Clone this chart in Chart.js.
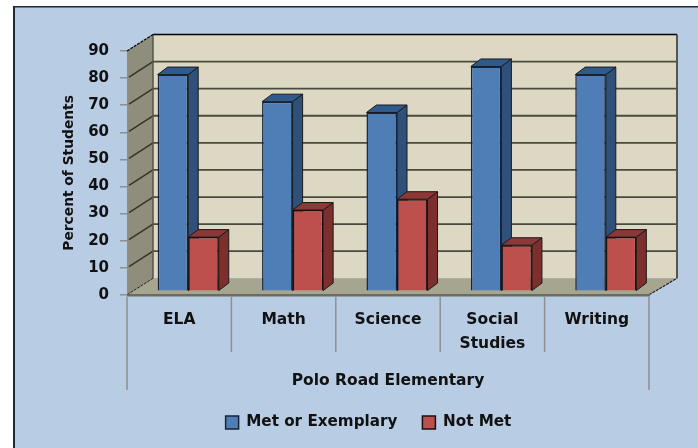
<!DOCTYPE html>
<html>
<head>
<meta charset="utf-8">
<style>
  html, body { margin: 0; padding: 0; background: #fff; }
  canvas { display: block; }
</style>
<script src="https://cdn.jsdelivr.net/npm/chart.js@4"></script>
</head>
<body>
<canvas id="chart" width="698" height="448"></canvas>
<script>
const categories = ['ELA', 'Math', 'Science', ['Social', 'Studies'], 'Writing'];
const metOrExemplary = [80, 70, 66, 83, 80];
const notMet = [20, 30, 34, 17, 20];

const FONT = 'DejaVu Sans';
const TEXT = '#111';
// how far the back wall sits behind the front plane, and the bars inside that box
const wallDx = 26, wallDy = 16.5;
const barShiftX = 9, barShiftY = -3.5;
const barDx = 10, barDy = 7.5;

function poly(ctx, pts, fill, stroke, lw) {
  ctx.beginPath();
  pts.forEach((p, i) => i ? ctx.lineTo(p[0], p[1]) : ctx.moveTo(p[0], p[1]));
  ctx.closePath();
  if (fill) { ctx.fillStyle = fill; ctx.fill(); }
  if (stroke) { ctx.strokeStyle = stroke; ctx.lineWidth = lw || 1; ctx.stroke(); }
}

function line(ctx, x1, y1, x2, y2, color, lw, dash) {
  ctx.save();
  ctx.beginPath();
  ctx.setLineDash(dash || []);
  ctx.moveTo(x1, y1);
  ctx.lineTo(x2, y2);
  ctx.strokeStyle = color;
  ctx.lineWidth = lw;
  ctx.stroke();
  ctx.restore();
}

const box3d = {
  id: 'box3d',
  beforeDraw(chart) {
    const ctx = chart.ctx;
    ctx.save();
    ctx.fillStyle = '#b8cce4';
    ctx.fillRect(14, 6, 684, 442);
    ctx.fillStyle = '#1f2733';
    ctx.fillRect(13, 6, 685, 1.5);
    ctx.fillRect(13, 6, 2, 442);
    ctx.restore();
  },
  afterLayout(chart) {
    // legend sits under the plot, not under the whole canvas
    chart.legend.left += 19;
    chart.legend.right += 19;
  },
  beforeDatasetsDraw(chart) {
    const ctx = chart.ctx;
    const x = chart.scales.x, y = chart.scales.y;
    const l = x.left, r = x.right, t = y.top, b = y.bottom;

    // walls and floor
    poly(ctx, [[l + wallDx, t - wallDy], [r + wallDx + 2, t - wallDy], [r + wallDx + 2, b - wallDy], [l + wallDx, b - wallDy]], '#ddd8c3');
    poly(ctx, [[l, t], [l + wallDx, t - wallDy], [l + wallDx, b - wallDy], [l, b]], '#8f8e7c');
    poly(ctx, [[l, b], [l + wallDx, b - wallDy], [r + wallDx + 2, b - wallDy], [r, b]], '#a6a590');

    // gridlines across the side wall and the back wall
    y.ticks.forEach(tick => {
      if (tick.value === 0 || tick.value === y.max) return;
      const py = y.getPixelForValue(tick.value);
      line(ctx, l + 2, py - 1, l + wallDx, py - wallDy, '#33332a', 1.5);
      line(ctx, l + wallDx, py - wallDy, r + wallDx + 2, py - wallDy, '#4a4a3e', 1.8);
    });

    // box edges
    line(ctx, l + wallDx, t - wallDy, r + wallDx + 2, t - wallDy, '#000', 1.5);
    line(ctx, r + wallDx + 2, t - wallDy, r + wallDx + 2, b - wallDy, '#55554a', 2);
    line(ctx, l + wallDx, t - wallDy, l + wallDx, b - wallDy, '#55554a', 1.5);
    line(ctx, l, t, l + wallDx, t - wallDy, '#000', 1.2, [3, 1]);
    line(ctx, l, b, l + wallDx, b - wallDy, '#222', 1, [3, 1]);
    line(ctx, r, b, r + wallDx + 2, b - wallDy, '#222', 1.2, [3, 1]);
    line(ctx, l, b + 0.5, r + 1, b + 0.5, '#6b6b60', 2.5);

    // category separators below the axis, the outer two run down past the title
    categories.forEach((c, i) => {
      const px = x.getPixelForValue(i - 0.5);
      line(ctx, px, b + 2, px, i === 0 ? 390 : 352, '#8f8f8f', 1.5);
    });
    const last = x.getPixelForValue(categories.length - 0.5);
    line(ctx, last, b + 2, last, 390, '#8f8f8f', 1.5);

    // sides and tops of the bars, the fronts are the chart's own bars
    ctx.save();
    ctx.translate(barShiftX, barShiftY);
    const shades = [['#2f5079', '#2f5a8c'], ['#7d2f2e', '#8c3836']];
    chart.data.datasets.forEach((ds, d) => {
      chart.getDatasetMeta(d).data.forEach(el => {
        const p = el.getProps(['x', 'y', 'base', 'width']);
        const xl = p.x - p.width / 2, xr = p.x + p.width / 2;
        poly(ctx, [[xr, p.y], [xr + barDx, p.y - barDy], [xr + barDx, p.base - barDy], [xr, p.base]], shades[d][0], '#1a1a1a', 1);
        poly(ctx, [[xl, p.y], [xl + barDx, p.y - barDy], [xr + barDx, p.y - barDy], [xr, p.y]], shades[d][1], '#1a1a1a', 1);
      });
    });
    ctx.restore();

    ctx.save();
    ctx.translate(barShiftX, barShiftY);
  },
  afterDatasetsDraw(chart) {
    chart.ctx.restore();
  }
};

new Chart(document.getElementById('chart'), {
  type: 'bar',
  data: {
    labels: categories,
    datasets: [
      { label: 'Met or Exemplary', data: metOrExemplary, backgroundColor: '#4f7db6', borderColor: '#16233a', borderWidth: 1.5, clip: false },
      { label: 'Not Met', data: notMet, backgroundColor: '#bd4f4c', borderColor: '#1a1010', borderWidth: 1.5, clip: false }
    ]
  },
  options: {
    responsive: false,
    animation: false,
    layout: { padding: { left: 50, right: 49, top: 51, bottom: 8 } },
    datasets: { bar: { categoryPercentage: 0.585, barPercentage: 1 } },
    scales: {
      x: {
        afterFit(scale) { scale.height = 95; },
        grid: { display: false },
        border: { display: false },
        ticks: { color: TEXT, padding: 6, autoSkip: false, maxRotation: 0, font: { family: FONT, weight: 'bold', size: 15.5, lineHeight: 1.5 } },
        title: { display: true, text: 'Polo Road Elementary', color: TEXT, padding: { top: 0, bottom: 0 }, font: { family: FONT, weight: 'bold', size: 15.5 } }
      },
      y: {
        min: 0,
        max: 90,
        afterFit(scale) { scale.width = 77; },
        grid: { drawOnChartArea: false, color: '#8f8f8f', tickLength: 7, lineWidth: 1.5 },
        border: { display: false },
        ticks: { stepSize: 10, color: TEXT, padding: 11, font: { family: FONT, weight: 'bold', size: 15 } },
        title: { display: true, text: 'Percent of Students', color: TEXT, padding: { top: 11, bottom: 0 }, font: { family: FONT, weight: 'bold', size: 13.8 } }
      }
    },
    plugins: {
      title: { display: false },
      tooltip: { enabled: false },
      legend: {
        position: 'bottom',
        labels: { color: TEXT, boxWidth: 13, boxHeight: 13, padding: 25, font: { family: FONT, weight: 'bold', size: 15.2 } }
      }
    }
  },
  plugins: [box3d]
});
</script>
</body>
</html>
